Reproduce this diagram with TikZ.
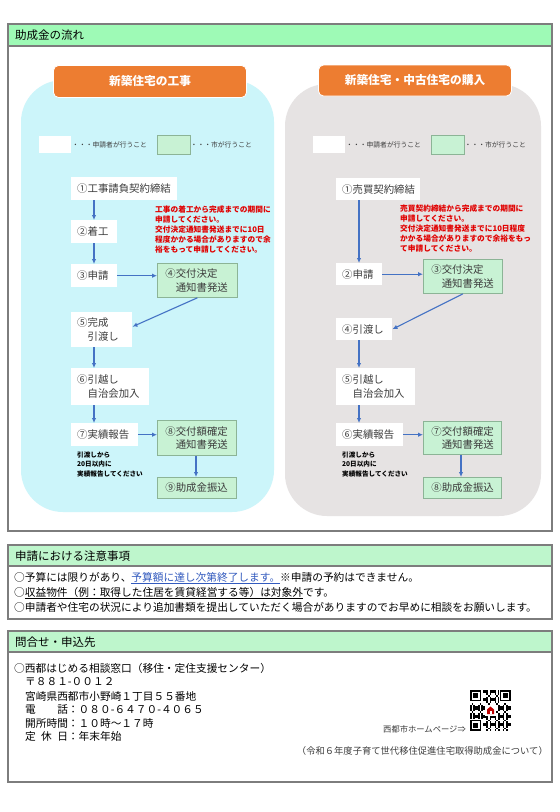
\documentclass[tikz,border=0pt]{standalone}
\usepackage{fontspec}
\setmainfont{Noto Sans CJK JP}
\usetikzlibrary{arrows.meta}
\definecolor{hdrA}{RGB}{158,250,182}
\definecolor{hdrB}{RGB}{190,246,204}
\definecolor{frame}{RGB}{125,125,125}
\definecolor{panelL}{RGB}{204,245,250}
\definecolor{panelR}{RGB}{230,227,227}
\definecolor{orng}{RGB}{237,125,49}
\definecolor{cityg}{RGB}{200,242,212}
\definecolor{cityb}{RGB}{140,180,150}
\definecolor{arrb}{RGB}{68,114,196}
\definecolor{notered}{RGB}{225,0,0}
\definecolor{txt}{RGB}{60,60,60}
\definecolor{linkb}{RGB}{50,90,190}
\newcommand\myfs[2]{\fontsize{#1}{#2}\selectfont}
\begin{document}
\begin{tikzpicture}[x=1pt,y=-1pt,
  stepbox/.style={fill=white, text=txt, font=\myfs{10.4}{13.5}, align=left, anchor=north west, inner xsep=6pt, inner ysep=0pt},
  citybox/.style={fill=cityg, draw=cityb, line width=0.8pt, text=txt, font=\myfs{10.4}{13.5}, align=left, anchor=north west, inner xsep=8pt, inner ysep=0pt},
  arr/.style={draw=arrb, line width=1.1pt, -{Latex[length=5pt,width=4.5pt]}},
  titlebox/.style={fill=orng, draw=white, line width=0.8pt, rounded corners=5pt, text=white, font=\myfs{11.7}{14}\bfseries, minimum width=193pt, inner sep=0pt},
  hdrtext/.style={anchor=west, inner sep=0pt, font=\myfs{11.5}{14}},
  bodytext/.style={anchor=west, inner sep=0pt, font=\myfs{10.7}{13}},
  legtext/.style={anchor=west, inner sep=0pt, font=\myfs{6.8}{8}, text=txt},
  rednote/.style={anchor=north west, inner sep=0pt, align=left, text=notered, font=\myfs{7.7}{9.9}\bfseries},
  smallnote/.style={anchor=north west, inner sep=0pt, align=left, text=black, font=\myfs{6.6}{9.5}\bfseries}
]
\useasboundingbox (0,0) rectangle (560,812);
\fill[white] (0,0) rectangle (560,812);

% ---------- Section 1 ----------
\draw[frame, line width=1.2pt] (8,24) rectangle (552,531);
\draw[frame, line width=1.2pt, fill=hdrA] (8,24) rectangle (552,46);
\node[hdrtext] (h1) at (15,35) {助成金の流れ};

\fill[panelL, rounded corners=42pt] (21,80) rectangle (274,512);
\fill[panelR, rounded corners=42pt] (285,84) rectangle (541,516);

\node[titlebox, minimum height=32pt] (TL) at (150,81.5) {新築住宅の工事};
\node[titlebox, minimum height=31pt] (TR) at (415,80.5) {新築住宅・中古住宅の購入};

% legends
\fill[white] (39,136) rectangle (71,153);
\node[legtext] (lgL1) at (72,144.5) {・・・申請者が行うこと};
\draw[fill=cityg, draw=cityb, line width=0.8pt] (157,135) rectangle (190,154);
\node[legtext] (lgL2) at (190.5,144.5) {・・・市が行うこと};
\fill[white] (313,136) rectangle (345,153);
\node[legtext] (lgR1) at (346,144.5) {・・・申請者が行うこと};
\draw[fill=cityg, draw=cityb, line width=0.8pt] (431,135) rectangle (464,154);
\node[legtext] (lgR2) at (464.5,144.5) {・・・市が行うこと};

% column coordinates
\coordinate (cl) at (94,0);
\coordinate (cr) at (359,0);
\coordinate (gl) at (196,0);
\coordinate (gr) at (461,0);

% left flow
\node[stepbox, text width=94pt, minimum height=23pt] (L1) at (71,177) {①工事請負契約締結};
\node[stepbox, text width=34pt, minimum height=23pt] (L2) at (71,220) {②着工};
\node[stepbox, text width=34pt, minimum height=23pt] (L3) at (71,264) {③申請};
\node[citybox, text width=64pt, minimum height=34pt] (L4) at (157,263) {④交付決定\\　通知書発送};
\node[stepbox, text width=49pt, minimum height=35pt] (L5) at (71,312) {⑤完成\\　引渡し};
\node[stepbox, text width=66pt, minimum height=37pt] (L6) at (71,368) {⑥引越し\\　自治会加入};
\node[stepbox, text width=55pt, minimum height=23pt] (L7) at (71,423) {⑦実績報告};
\node[citybox, text width=63pt, minimum height=35pt] (L8) at (157,420) {⑧交付額確定\\　通知書発送};
\node[citybox, text width=63pt, minimum height=21pt] (L9) at (157,477) {⑨助成金振込};

\node[rednote] (NL) at (155,205.5) {工事の着工から完成までの期間に\\申請してください。\\交付決定通知書発送までに10日\\程度かかる場合がありますので余\\裕をもって申請してください。};
\node[smallnote] (SL) at (77,451.5) {引渡しから\\20日以内に\\実績報告してください};

\draw[arr] (L1.south -| cl) -- (L2.north -| cl);
\draw[arr] (L2.south -| cl) -- (L3.north -| cl);
\draw[arr] (L3.east) -- (L3.east -| L4.west);
\draw[arr] (L4.south) -- ([yshift=3pt]L5.east);
\draw[arr] (L5.south -| cl) -- (L6.north -| cl);
\draw[arr] (L6.south -| cl) -- (L7.north -| cl);
\draw[arr] (L7.east) -- (L7.east -| L8.west);
\draw[arr] (L8.south -| gl) -- (L9.north -| gl);

% right flow
\node[stepbox, text width=72pt, minimum height=22pt] (R1) at (336,178) {①売買契約締結};
\node[stepbox, text width=34pt, minimum height=22pt] (R2) at (336,263) {②申請};
\node[citybox, text width=63pt, minimum height=34pt] (R3) at (423,259) {③交付決定\\　通知書発送};
\node[stepbox, text width=44pt, minimum height=22pt] (R4) at (336,318) {④引渡し};
\node[stepbox, text width=67pt, minimum height=37pt] (R5) at (336,368) {⑤引越し\\　自治会加入};
\node[stepbox, text width=55pt, minimum height=23pt] (R6) at (336,423) {⑥実績報告};
\node[citybox, text width=62pt, minimum height=33pt] (R7) at (423,421) {⑦交付額確定\\　通知書発送};
\node[citybox, text width=62pt, minimum height=21pt] (R8) at (423,477) {⑧助成金振込};

\node[rednote] (NR) at (400,204.5) {売買契約締結から完成までの期間に\\申請してください。\\交付決定通知書発送までに10日程度\\かかる場合がありますので余裕をもっ\\て申請してください。};
\node[smallnote] (SR) at (342,451.5) {引渡しから\\20日以内に\\実績報告してください};

\draw[arr] (R1.south -| cr) -- (R2.north -| cr);
\draw[arr] (R2.east) -- (R2.east -| R3.west);
\draw[arr] (R3.south) -- (R4.east);
\draw[arr] (R4.south -| cr) -- (R5.north -| cr);
\draw[arr] (R5.south -| cr) -- (R6.north -| cr);
\draw[arr] (R6.east) -- (R6.east -| R7.west);
\draw[arr] (R7.south -| gr) -- (R8.north -| gr);

% ---------- Section 2 ----------
\draw[frame, line width=1.2pt] (8,545) rectangle (552,619);
\draw[frame, line width=1.2pt, fill=hdrB] (8,545) rectangle (552,566);
\node[hdrtext] (h2) at (15,556) {申請における注意事項};
\node[bodytext] (t21) at (14,578) {○予算には限りがあり、\textcolor{linkb}{\underline{予算額に達し次第終了します。}}※申請の予約はできません。};
\node[bodytext] (t22) at (14,593) {○\underline{収益物件（例：取得した住居を賃貸経営する等）は対象外}です。};
\node[bodytext] (t23) at (14,607) {○申請者や住宅の状況により追加書類を提出していただく場合がありますのでお早めに相談をお願いします。};

% ---------- Section 3 ----------
\draw[frame, line width=1.2pt] (8,631) rectangle (552,782);
\draw[frame, line width=1.2pt, fill=hdrB] (8,631) rectangle (552,652);
\node[hdrtext] (h3) at (15,642) {問合せ・申込先};
\node[bodytext] (t31) at (14,668) {○西都はじめる相談窓口（移住・定住支援センター）};
\node[bodytext] (t32) at (25,682) {〒８８１-００１２};
\node[bodytext] (t33) at (25,696) {宮崎県西都市小野崎１丁目５５番地};
\node[bodytext] (t34) at (25,709.5) {電　　話：０８０-６４７０-４０６５};
\node[bodytext] (t35) at (25,723) {開所時間：１０時～１７時};
\node[bodytext] (t36) at (25,736) {定\hspace{0.5em}休\hspace{0.5em}日：年末年始};

\node[anchor=east, inner sep=0pt, font=\myfs{8.3}{10}, text=txt] (hp) at (466,729) {西都市ホームページ⇒};
\node[anchor=east, inner sep=0pt, font=\myfs{9.3}{11}, text=txt] (ref) at (548,751) {（令和６年度子育て世代移住促進住宅取得助成金について）};

% QR code (approximation)
\begin{scope}[shift={(470,690)}]
  \fill[white] (0,0) rectangle (41,41);
  \foreach \i in {0,...,24}{
    \foreach \j in {0,...,24}{
      \pgfmathtruncatemacro\v{mod(\i*\i*7+\j*\j*3+\i*\j*5+\i+2*\j,5)}
      \ifnum\v<2 \fill (\i*1.64,\j*1.64) rectangle ++(1.64,1.64); \fi
    }
  }
  \foreach \px/\py in {0/0,18/0,0/18}{
    \fill[white] (\px*1.64-0.5,\py*1.64-0.5) rectangle ++(7*1.64+1.6,7*1.64+1.6);
    \fill (\px*1.64,\py*1.64) rectangle ++(7*1.64,7*1.64);
    \fill[white] (\px*1.64+1.64,\py*1.64+1.64) rectangle ++(5*1.64,5*1.64);
    \fill (\px*1.64+3.28,\py*1.64+3.28) rectangle ++(3*1.64,3*1.64);
  }
  \fill[white] (15,15) rectangle (26,26);
  \fill[red!75!black] (17,24) -- (17,19.5) -- (20.5,16.5) -- (24,19.5) -- (24,24) -- cycle;
  \fill[white] (19.5,24) rectangle (21.5,21);
\end{scope}
\end{tikzpicture}
\end{document}
